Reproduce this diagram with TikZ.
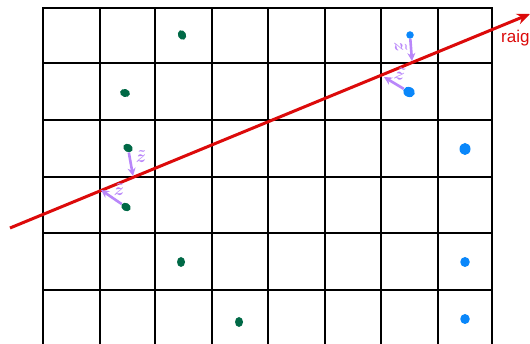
\documentclass[tikz,border=0pt]{standalone}
\usepackage{fontspec}
\usetikzlibrary{arrows.meta,shapes.geometric}
\definecolor{raigred}{RGB}{220,10,10}
\definecolor{dotgreen}{RGB}{0,105,70}
\definecolor{dotblue}{RGB}{10,135,250}
\definecolor{distpurple}{RGB}{185,135,250}
\newfontfamily\handfont{Liberation Sans}
\begin{document}
\begin{tikzpicture}[x=1pt,y=-1pt,
 gridline/.style={line width=2.8pt, black, line cap=rect},
 gdot/.style={ellipse, fill=dotgreen, inner sep=0pt, minimum width=8pt, minimum height=10pt},
 bdot/.style={ellipse, fill=dotblue, inner sep=0pt, minimum width=9.5pt, minimum height=10pt},
 ray/.style={raigred, line width=3pt, -{Stealth[length=13pt,width=11pt]}},
 dist/.style={distpurple, line width=2.6pt, -{Stealth[length=8pt,width=8pt]}},
 distlabel/.style={text=distpurple, font=\fontsize{19}{19}\selectfont\boldmath, inner sep=0pt},
]
\useasboundingbox (0,0) rectangle (530,344);
\fill[white] (0,0) rectangle (530,344);
% grid
\foreach \x in {43,100,155,212,268,325,381,438,492}
  \draw[gridline] (\x,8) -- (\x,350);
\foreach \y in {8,63,120,177,233,290}
  \draw[gridline] (43,\y) -- (492,\y);
% ray
\coordinate (rs) at (10,228);
\coordinate (re) at (530,14);
\draw[ray] (rs) -- (re);
\node[text=raigred, anchor=base west, font=\handfont\fontsize{17}{17}\selectfont, inner sep=0pt] (raig) at (501,43) {raig};
% dots
\node[gdot, rotate=25] (g1) at (182,35) {};
\node[gdot, rotate=75] (g2) at (125,93) {};
\node[gdot, rotate=60] (g3) at (128,148) {};
\node[gdot, rotate=60] (g4) at (126,207) {};
\node[gdot] (g5) at (181,262) {};
\node[gdot] (g6) at (239,322) {};
\node[bdot, minimum width=7.5pt, minimum height=7.5pt] (b1) at (410,35) {};
\node[bdot, rotate=70, minimum width=10pt, minimum height=12pt] (b2) at (409,92) {};
\node[bdot, minimum width=11pt, minimum height=12pt] (b3) at (465,149) {};
\node[bdot] (b4) at (465,262) {};
\node[bdot] (b5) at (465,319) {};
% distances
\coordinate (p1) at (412,61);
\coordinate (p2) at (384,77);
\coordinate (p3) at (133,176);
\coordinate (p4) at (101,190);
\draw[dist] (b1) -- (p1);
\draw[dist] (b2) -- (p2);
\draw[dist] (g3) -- (p3);
\draw[dist] (g4) -- (p4);
\node[distlabel, rotate=-80] (l1) at (401,47) {$\tilde{z}$};
\node[distlabel, rotate=-15] (l2) at (400,74) {$\tilde{z}$};
\node[distlabel] (l3) at (141,157) {$\tilde{z}$};
\node[distlabel] (l4) at (119,190) {$\tilde{z}$};
\end{tikzpicture}
\end{document}
